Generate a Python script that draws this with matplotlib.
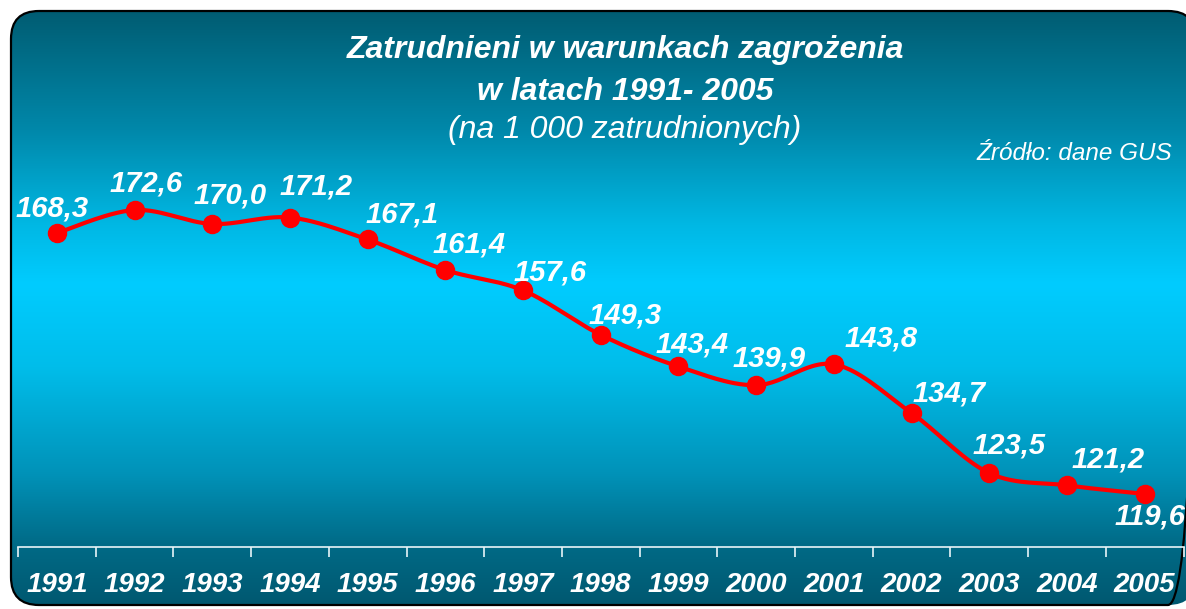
import numpy as np
import matplotlib
matplotlib.use("Agg")
import matplotlib.pyplot as plt
from matplotlib.patches import FancyBboxPatch
from matplotlib.colors import LinearSegmentedColormap
from matplotlib.transforms import blended_transform_factory

years = ["1991", "1992", "1993", "1994", "1995", "1996", "1997", "1998",
         "1999", "2000", "2001", "2002", "2003", "2004", "2005"]
values = [168.3, 172.6, 170.0, 171.2, 167.1, 161.4, 157.6, 149.3,
          143.4, 139.9, 143.8, 134.7, 123.5, 121.2, 119.6]
labels = [f"{v:.1f}".replace(".", ",") for v in values]
# label offsets from the point, in pixels (dx, dy up)
label_dx = [-5, 12, 18, 26, 34, 24, 27, 24, 14, 13, 47, 38, 20, 41, 5]
label_dy = [25, 27, 28, 31, 25, 26, 18, 19, 22, 27, 26, 20, 28, 26, -23]

plt.rcParams['font.family'] = ['Liberation Sans', 'DejaVu Sans']

W, H = 1186, 609
fig = plt.figure(figsize=(W / 100, H / 100), dpi=100)
fig.patch.set_facecolor("white")

# background panel with vertical gradient
bg = fig.add_axes([0, 0, 1, 1])
bg.set_xlim(0, W)
bg.set_ylim(H, 0)
bg.axis("off")
cmap = LinearSegmentedColormap.from_list(
    "panel", [(0.0, "#005c72"), (0.2, "#0088aa"), (0.36, "#00b8e4"),
              (0.46, "#00ccff"), (0.6, "#00bdea"), (0.78, "#0092b8"),
              (0.9, "#006a86"), (1.0, "#005870")])
grad = np.linspace(0, 1, 256).reshape(-1, 1)
im = bg.imshow(grad, cmap=cmap, extent=[10, W + 30, 606, 10],
               aspect="auto", zorder=1)
panel = FancyBboxPatch((11, 11), 1185, 594,
                       boxstyle="round,pad=0,rounding_size=28",
                       facecolor="none", edgecolor="black", lw=1.6, zorder=2)
bg.add_patch(panel)
im.set_clip_path(panel)

# plot area
x0, x1 = 18 / W, (18 + 15 * 77.7) / W
yb, yt = 1 - 547 / H, 1 - 172 / H
ax = fig.add_axes([x0, yb, x1 - x0, yt - yb])
ax.patch.set_alpha(0)
ax.set_xlim(-0.5, len(years) - 0.5)
ax.set_ylim(109.7, 179.7)

# smooth curve through the points (Catmull-Rom)
xs = np.arange(len(values), dtype=float)
ys = np.array(values)
px = np.concatenate([[xs[0]], xs, [xs[-1]]])
py = np.concatenate([[ys[0]], ys, [ys[-1]]])
cx, cy = [], []
t = np.linspace(0, 1, 30)
for i in range(1, len(px) - 2):
    for p, out in ((px, cx), (py, cy)):
        p0, p1, p2, p3 = p[i - 1], p[i], p[i + 1], p[i + 2]
        out.extend(0.5 * (2 * p1 + (-p0 + p2) * t
                          + (2 * p0 - 5 * p1 + 4 * p2 - p3) * t ** 2
                          + (-p0 + 3 * p1 - 3 * p2 + p3) * t ** 3))
ax.plot(cx, cy, color="#ff0000", lw=3, zorder=3, solid_capstyle="round")
ax.plot(xs, ys, "o", color="#ff0000", ms=13, zorder=4)

for i, (v, lab) in enumerate(zip(values, labels)):
    ax.annotate(lab, (i, v), xytext=(label_dx[i], label_dy[i]),
                textcoords="offset pixels", ha="center", va="center",
                color="white", fontsize=21, fontweight="bold",
                fontstyle="italic", zorder=5)

for s in ["left", "right", "top"]:
    ax.spines[s].set_visible(False)
ax.spines["bottom"].set_color("#e8f4f8")
ax.spines["bottom"].set_linewidth(1.2)
ax.set_yticks([])
ax.set_xticks(np.arange(-0.5, len(years), 1))
ax.set_xticklabels([])
ax.tick_params(axis="x", direction="out", length=7, color="#e8f4f8", width=1.2)

# year labels: x in data units, y in figure units
yr_tr = blended_transform_factory(ax.transData, fig.transFigure)
for i, yr in enumerate(years):
    ax.text(i, 1 - 585 / H, yr, transform=yr_tr, ha="center", va="center",
            color="white", fontsize=20, fontweight="bold",
            fontstyle="italic", clip_on=False)

# titles
fig.text(625 / W, 1 - 50 / H, "Zatrudnieni w warunkach zagrożenia",
         ha="center", va="center", color="white", fontsize=23,
         fontweight="bold", fontstyle="italic")
fig.text(625 / W, 1 - 92 / H, "w latach 1991- 2005",
         ha="center", va="center", color="white", fontsize=23,
         fontweight="bold", fontstyle="italic")
fig.text(625 / W, 1 - 130 / H, "(na 1 000 zatrudnionych)",
         ha="center", va="center", color="white", fontsize=23,
         fontstyle="italic")
fig.text(1172 / W, 1 - 153 / H, "Źródło: dane GUS",
         ha="right", va="center", color="white", fontsize=17.5,
         fontstyle="italic")

fig.savefig("out.png", dpi=100)
